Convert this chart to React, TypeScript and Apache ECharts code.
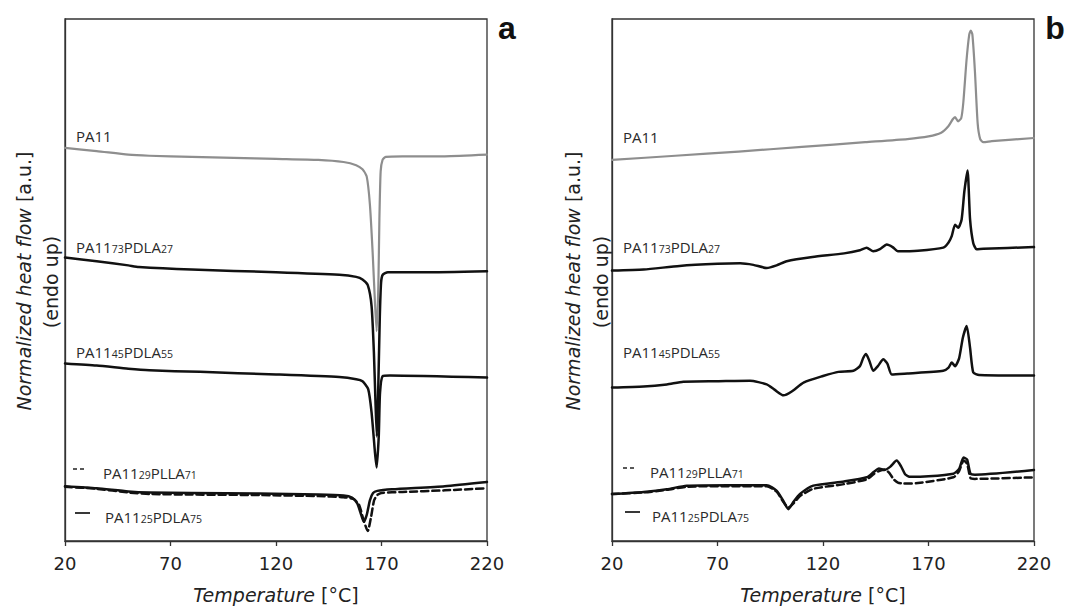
import React, { useEffect, useRef } from "react";
import * as echarts from "echarts";

// Axis ticks
const X_MIN = 20;
const X_MAX = 220;
const X_STEP = 50;
const Y_MIN = 0;
const Y_MAX = 100;

// ---- Panel a (cooling) ----
const T_A_PA11 = [20, 35, 50, 60, 80, 100, 120, 140, 152, 158, 161, 163, 164.5, 165.8, 166.9, 167.7, 168.5, 169, 169.6, 170.5, 172, 180, 200, 220];
const V_A_PA11 = [75.3, 74.7, 74.0, 73.8, 73.6, 73.4, 73.2, 73.0, 72.6, 72.0, 71.2, 69.8, 64.5, 55.3, 45.7, 40.2, 48.8, 61.6, 70.8, 73.0, 73.6, 73.7, 73.7, 74.0];

const T_A_73 = [20, 35, 50, 55, 80, 120, 150, 158, 161, 163.5, 165.3, 166.4, 167.2, 167.8, 168.5, 169.2, 169.8, 170.6, 173, 190, 220];
const V_A_73 = [54.3, 53.6, 52.8, 52.5, 52.0, 51.5, 51.0, 50.6, 50.1, 49.0, 45.0, 36.1, 26.0, 20.0, 30.0, 43.0, 49.5, 51.0, 51.5, 51.5, 51.7];

const T_A_45 = [20, 35, 50, 60, 84, 120, 150, 158, 161, 163.7, 165.3, 166.9, 167.7, 168.7, 169.3, 170.6, 174, 220];
const V_A_45 = [34.0, 33.6, 33.0, 32.7, 32.4, 31.9, 31.4, 31.0, 30.6, 29.1, 24.6, 17.0, 14.1, 20.1, 28.4, 31.6, 31.7, 31.3];

const T_A_29 = [20, 35, 50, 60, 80, 112, 140, 152, 157, 159.5, 161.5, 163.5, 165, 166.5, 168, 170, 180, 200, 220];
const V_A_29 = [10.4, 10.0, 9.3, 9.0, 8.9, 8.8, 8.6, 8.4, 8.0, 6.8, 4.0, 1.9, 4.5, 7.8, 8.8, 9.2, 9.4, 9.7, 10.1];

const T_A_25 = [20, 35, 50, 60, 80, 112, 140, 152, 156, 158.5, 160, 161.6, 163, 164.5, 166, 168, 175, 200, 220];
const V_A_25 = [10.5, 10.1, 9.5, 9.3, 9.2, 9.1, 8.9, 8.7, 8.3, 7.2, 5.5, 3.7, 5.0, 7.8, 9.2, 9.6, 9.9, 10.5, 11.3];

// ---- Panel b (heating) ----
const T_B_PA11 = [20, 50, 80, 110, 140, 160, 170, 176, 179.5, 181.5, 182.6, 184, 185.5, 186.5, 188, 189.3, 190, 190.8, 192, 193.3, 194.5, 196, 200, 220];
const V_B_PA11 = [73.0, 73.8, 74.6, 75.5, 76.4, 77.0, 77.5, 78.2, 79.5, 80.8, 81.2, 80.4, 81.0, 84.0, 92.0, 97.0, 97.8, 97.0, 90.0, 80.0, 77.0, 76.4, 76.6, 77.2];

const T_B_73 = [20, 35, 52, 70, 80.7, 87, 93.3, 98, 102.8, 115, 130, 137.5, 140.7, 143.8, 147, 150.2, 153, 155.5, 165, 177, 179.5, 181, 182.6, 184.1, 185.7, 187, 188.5, 189.7, 191.2, 192.8, 196, 220];
const V_B_73 = [51.8, 52.0, 52.7, 53.1, 53.2, 52.9, 52.3, 52.8, 53.6, 54.4, 55.1, 55.7, 56.2, 55.5, 55.9, 56.8, 56.3, 55.5, 55.6, 56.2, 57.2, 58.4, 60.6, 60.0, 61.6, 67.0, 71.0, 61.6, 57.1, 55.9, 56.0, 56.3];

const T_B_45 = [20, 35, 46, 53.8, 70, 85.4, 93.3, 97, 101.3, 105, 111, 120, 127.3, 134.4, 137.5, 139, 140.4, 142, 143.8, 146, 148.6, 150.5, 152.6, 160, 177, 179.5, 181, 182.6, 184.5, 186.3, 188.1, 189.7, 191.2, 194, 220];
const V_B_45 = [29.4, 29.6, 30.0, 30.5, 30.6, 30.7, 30.0, 29.0, 27.9, 28.6, 30.4, 31.6, 32.4, 32.6, 33.5, 35.0, 35.8, 34.5, 32.6, 33.5, 34.8, 34.0, 31.9, 32.1, 32.6, 33.2, 34.2, 33.5, 35.0, 39.0, 41.2, 37.0, 32.3, 31.8, 31.7];

const T_B_25 = [20, 35, 46, 55.4, 75, 93.3, 98.1, 101, 103.6, 106, 109.1, 115.4, 130, 140.7, 144, 146.5, 149, 151.8, 154.9, 157, 158.9, 161, 170, 181.8, 184.5, 186.6, 188.3, 189.9, 192, 220];
const V_B_25 = [9.0, 9.4, 9.9, 10.6, 10.7, 10.7, 9.6, 7.8, 6.1, 7.5, 9.0, 10.6, 11.4, 12.2, 13.2, 13.9, 13.6, 14.2, 15.4, 14.3, 12.8, 12.3, 12.4, 12.9, 13.8, 16.0, 15.6, 12.9, 12.7, 13.6];

const T_B_29 = [20, 35, 46, 55.4, 75, 93.3, 98.1, 101, 103.6, 106, 109.1, 115.4, 130, 140.7, 144, 146.5, 149.3, 151.5, 153.5, 155.5, 158, 165, 181.8, 184.5, 186.6, 188.3, 190, 192, 220];
const V_B_29 = [9.0, 9.3, 9.8, 10.4, 10.5, 10.5, 9.4, 7.6, 6.4, 7.2, 8.6, 10.0, 10.9, 11.8, 12.8, 13.4, 13.7, 13.0, 11.8, 11.2, 11.0, 11.1, 12.2, 13.4, 15.4, 14.8, 12.0, 11.9, 12.2];

const zip = (t: number[], v: number[]) => t.map((x, i) => [x, v[i]]);

const GRAY = "#8e8e8e";
const BLACK = "#111111";
const AXIS = "#333333";
const TXT = "#222222";
const FONT = "DejaVu Sans";
const LFONT = "Open Sans";

const PLOT_TOP = 19;
const PLOT_H = 523;
const PLOT_W = 422;
const LEFT_A = 65;
const LEFT_B = 612;

function lineSeries(name: string, gi: number, t: number[], v: number[], color: string, width: number, dashed = false) {
  return {
    name,
    type: "line",
    xAxisIndex: gi,
    yAxisIndex: gi,
    data: zip(t, v),
    symbol: "none",
    showSymbol: false,
    smooth: 0.2,
    lineStyle: { color, width, type: dashed ? [7, 4] : "solid", cap: "round", join: "round" },
    silent: true,
    z: dashed ? 3 : 2,
  };
}

const labelRich = {
  m: { fontSize: 15, fontFamily: LFONT, fill: "#2a2a2a", color: "#2a2a2a", lineHeight: 22, verticalAlign: "bottom" },
  s: { fontSize: 10.5, fontFamily: LFONT, fill: "#2a2a2a", color: "#2a2a2a", lineHeight: 10, verticalAlign: "bottom" },
};

function curveLabel(x: number, y: number, parts: string) {
  return {
    type: "text",
    x,
    y,
    silent: true,
    style: {
      text: parts,
      rich: labelRich,
      align: "left",
      verticalAlign: "middle",
      textAlign: "left",
      textVerticalAlign: "middle",
      fill: "#2a2a2a",
    },
  };
}

const L_PA11 = "{m|PA11}";
const L_73 = "{m|PA11}{s|73}{m|PDLA}{s|27}";
const L_45 = "{m|PA11}{s|45}{m|PDLA}{s|55}";
const L_29 = "{m|PA11}{s|29}{m|PLLA}{s|71}";
const L_25 = "{m|PA11}{s|25}{m|PDLA}{s|75}";

const titleRich = {
  i: { fontStyle: "italic", fontSize: 19, fontFamily: FONT, fill: TXT, color: TXT },
  n: { fontSize: 19, fontFamily: FONT, fill: TXT, color: TXT },
};

function yTitle(x1: number, x2: number) {
  return [
    {
      type: "text",
      x: x1,
      y: 281,
      rotation: Math.PI / 2,
      silent: true,
      style: {
        text: "{i|Normalized heat flow}{n| [a.u.]}",
        rich: titleRich,
        align: "center",
        verticalAlign: "middle",
        textAlign: "center",
        textVerticalAlign: "middle",
        fill: TXT,
      },
    },
    {
      type: "text",
      x: x2,
      y: 282,
      rotation: Math.PI / 2,
      silent: true,
      style: {
        text: "(endo up)",
        font: `19px "${FONT}"`,
        align: "center",
        verticalAlign: "middle",
        textAlign: "center",
        textVerticalAlign: "middle",
        fill: TXT,
      },
    },
  ];
}

function legendMarks(xd: number, yd: number, xs: number, ys: number) {
  return [
    {
      type: "line",
      silent: true,
      shape: { x1: xd, y1: yd, x2: xd + 11, y2: yd },
      style: { stroke: "#222", lineWidth: 1.6, lineDash: [4, 3] },
    },
    {
      type: "line",
      silent: true,
      shape: { x1: xs, y1: ys, x2: xs + 15, y2: ys },
      style: { stroke: "#222", lineWidth: 1.8 },
    },
  ];
}

function xAxis(gi: number) {
  return {
    type: "value",
    gridIndex: gi,
    min: X_MIN,
    max: X_MAX,
    interval: X_STEP,
    axisLine: { show: true, lineStyle: { color: AXIS, width: 1.3 } },
    axisTick: { show: true, inside: false, length: 5, lineStyle: { color: AXIS, width: 1.3 } },
    axisLabel: { fontSize: 18, fontFamily: FONT, color: TXT, margin: 13 },
    splitLine: { show: false },
    name: "{i|Temperature}{n| [°C]}",
    nameLocation: "middle",
    nameGap: 44,
    nameTextStyle: { fontSize: 19, fontFamily: FONT, color: TXT, rich: titleRich },
  };
}

function yAxis(gi: number) {
  return {
    type: "value",
    gridIndex: gi,
    min: Y_MIN,
    max: Y_MAX,
    axisLine: { show: true, lineStyle: { color: AXIS, width: 1.3 } },
    axisTick: { show: false },
    axisLabel: { show: false },
    splitLine: { show: false },
  };
}

export default function App() {
  const ref = useRef<HTMLDivElement>(null);
  useEffect(() => {
    document.body.style.margin = "0";
    const chart = echarts.init(ref.current!, null, { renderer: "svg" });
    const option = {
      animation: false,
      backgroundColor: "#ffffff",
      grid: [
        { left: LEFT_A, top: PLOT_TOP, width: PLOT_W, height: PLOT_H, show: true, borderColor: AXIS, borderWidth: 1.3, backgroundColor: "transparent" },
        { left: LEFT_B, top: PLOT_TOP, width: PLOT_W, height: PLOT_H, show: true, borderColor: AXIS, borderWidth: 1.3, backgroundColor: "transparent" },
      ],
      xAxis: [xAxis(0), xAxis(1)],
      yAxis: [yAxis(0), yAxis(1)],
      series: [
        lineSeries("PA11(73)PDLA(27) a", 0, T_A_73, V_A_73, BLACK, 2.5),
        lineSeries("PA11(45)PDLA(55) a", 0, T_A_45, V_A_45, BLACK, 2.5),
        lineSeries("PA11 a", 0, T_A_PA11, V_A_PA11, GRAY, 2.2),
        lineSeries("PA11(25)PDLA(75) a", 0, T_A_25, V_A_25, BLACK, 2.5),
        lineSeries("PA11(29)PLLA(71) a", 0, T_A_29, V_A_29, BLACK, 2.5, true),
        lineSeries("PA11 b", 1, T_B_PA11, V_B_PA11, GRAY, 2.2),
        lineSeries("PA11(73)PDLA(27) b", 1, T_B_73, V_B_73, BLACK, 2.5),
        lineSeries("PA11(45)PDLA(55) b", 1, T_B_45, V_B_45, BLACK, 2.5),
        lineSeries("PA11(25)PDLA(75) b", 1, T_B_25, V_B_25, BLACK, 2.5),
        lineSeries("PA11(29)PLLA(71) b", 1, T_B_29, V_B_29, BLACK, 2.5, true),
      ],
      graphic: [
        ...yTitle(24, 51),
        ...yTitle(573, 601),
        curveLabel(76, 132, L_PA11),
        curveLabel(76, 243, L_73),
        curveLabel(76, 348, L_45),
        curveLabel(103, 469, L_29),
        curveLabel(105, 513, L_25),
        ...legendMarks(73, 469, 75, 513),
        curveLabel(623, 133, L_PA11),
        curveLabel(623, 243, L_73),
        curveLabel(623, 348, L_45),
        curveLabel(650, 468, L_29),
        curveLabel(652, 512, L_25),
        ...legendMarks(623, 468, 625, 512),
        {
          type: "text",
          x: 507,
          y: 28,
          silent: true,
          style: { text: "a", font: 'bold 32px "Liberation Sans"', fill: "#111", align: "center", verticalAlign: "middle", textAlign: "center", textVerticalAlign: "middle" },
        },
        {
          type: "text",
          x: 1055,
          y: 28,
          silent: true,
          style: { text: "b", font: 'bold 32px "Liberation Sans"', fill: "#111", align: "center", verticalAlign: "middle", textAlign: "center", textVerticalAlign: "middle" },
        },
      ],
    };
    chart.setOption(option as any);
    return () => chart.dispose();
  }, []);
  return <div ref={ref} style={{ width: 1067, height: 609 }} />;
}
